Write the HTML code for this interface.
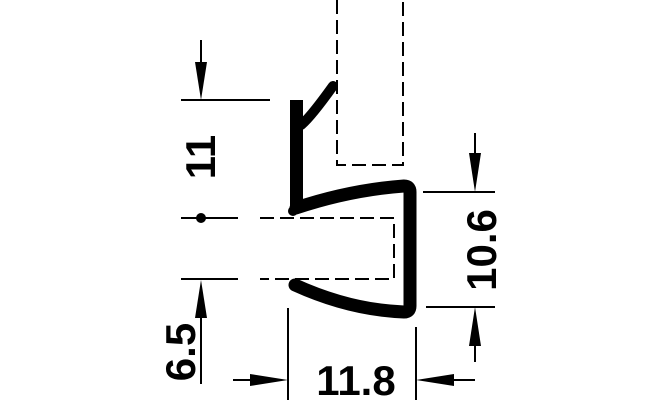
<!DOCTYPE html>
<html><head><meta charset="utf-8"><style>html,body{margin:0;padding:0;background:#fff}svg{display:block}</style></head>
<body>
<svg width="659" height="400" viewBox="0 0 659 400" xmlns="http://www.w3.org/2000/svg">
<g fill="none" stroke="#000" stroke-width="2" stroke-dasharray="14,6">
<path d="M337 0 V165 H403 V0"/>
<path d="M260 218 H394 V279 H260"/>
</g>
<g stroke="#000" stroke-width="2" fill="none">
<line x1="181" y1="100" x2="270" y2="100"/>
<line x1="201" y1="40" x2="201" y2="70"/>
<line x1="181" y1="218" x2="238" y2="218"/>
<line x1="181" y1="279" x2="238" y2="279"/>
<line x1="201" y1="310" x2="201" y2="384"/>
<line x1="423" y1="192" x2="495" y2="192"/>
<line x1="426" y1="307" x2="495" y2="307"/>
<line x1="475" y1="133" x2="475" y2="160"/>
<line x1="475" y1="340" x2="475" y2="362"/>
<line x1="288" y1="308" x2="288" y2="400"/>
<line x1="416" y1="327" x2="416" y2="400"/>
<line x1="233" y1="380" x2="260" y2="380"/>
<line x1="445" y1="380" x2="475" y2="380"/>
</g>
<g fill="#000">
<polygon points="195,62 207,62 201,100"/>
<polygon points="195,318 207,318 201,280"/>
<polygon points="469,153 481,153 475,192"/>
<polygon points="469,346 481,346 475,307"/>
<polygon points="250,374 250,386 288,380"/>
<polygon points="454,374 454,386 416,380"/>
<circle cx="201" cy="218" r="5"/>
<circle cx="293" cy="211" r="5"/>
</g>
<g fill="none" stroke="#000" stroke-linecap="round" stroke-linejoin="round">
<path d="M296.5 100 V208" stroke-width="13" stroke-linecap="butt"/>
<path d="M301 125 Q310 118 333 86" stroke-width="10"/>
<path d="M296 208 Q350 190 404 186 Q410 186 410 192 V306 Q410 312 404 312 Q350 310 295 285" stroke-width="13"/>
</g>
<g font-family="Liberation Sans, sans-serif" font-weight="bold" font-size="42" fill="#000" text-anchor="middle">
<text x="356" y="395">11.8</text>
<text transform="translate(215,157) rotate(-90)">11</text>
<text transform="translate(195,352) rotate(-90)">6.5</text>
<text transform="translate(496,250) rotate(-90)">10.6</text>
</g>
</svg>
</body></html>
